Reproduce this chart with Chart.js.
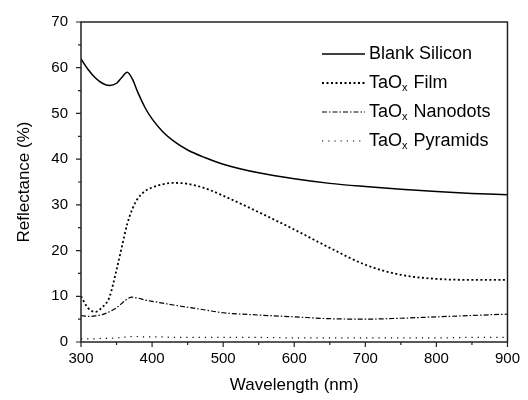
<!DOCTYPE html>
<html>
<head>
<meta charset="utf-8">
<script src="https://cdn.jsdelivr.net/npm/chart.js@4.4.1/dist/chart.umd.min.js"></script>
<style>
  html, body { margin: 0; padding: 0; background: #fff; }
  #chart { display: block; }
</style>
</head>
<body>
<canvas id="chart" width="528" height="400"></canvas>
<script>
// wavelength samples (nm)
const wavelengths = [300, 310, 320, 330, 340, 350, 357, 365, 372, 380, 390, 400, 415, 430, 450, 475, 500, 550, 600, 650, 700, 750, 800, 850, 900];

// reflectance (%)
const blankSilicon = [61.9, 59.6, 57.8, 56.6, 56.1, 56.6, 57.8, 59.0, 57.6, 54.6, 51.3, 48.8, 46.0, 44.0, 42.0, 40.3, 38.9, 37.0, 35.7, 34.7, 34.0, 33.4, 32.9, 32.5, 32.2];
const taoxFilm = [10.0, 7.4, 6.6, 7.6, 9.8, 15.8, 20.5, 25.8, 29.0, 31.4, 33.0, 33.8, 34.5, 34.8, 34.6, 33.6, 32.0, 28.4, 24.6, 20.6, 16.9, 14.7, 13.8, 13.6, 13.6];
const taoxNanodots = [5.8, 5.6, 5.7, 6.0, 6.6, 7.5, 8.4, 9.4, 9.8, 9.6, 9.2, 8.9, 8.5, 8.1, 7.6, 7.0, 6.4, 5.9, 5.5, 5.1, 5.0, 5.2, 5.5, 5.8, 6.1];
const taoxPyramids = [0.7, 0.7, 0.7, 0.8, 0.8, 0.9, 1.0, 1.1, 1.2, 1.2, 1.1, 1.1, 1.1, 1.0, 1.0, 1.0, 1.0, 1.0, 0.9, 0.9, 0.9, 0.9, 0.9, 1.0, 1.0];

const seriesLabels = ['Blank Silicon', 'TaOx Film', 'TaOx Nanodots', 'TaOx Pyramids'];
const xTicks = [300, 400, 500, 600, 700, 800, 900];
const yTicks = [0, 10, 20, 30, 40, 50, 60, 70];

const FONT = '"Liberation Sans", Arial, sans-serif';

function pts(vals) {
    return wavelengths.map((w, i) => ({ x: w, y: vals[i] }));
}

// frame + outward ticks (major and minor)
const framePlugin = {
    id: 'frame',
    afterDraw(chart) {
        const ctx = chart.ctx;
        const a = chart.chartArea;
        const xs = chart.scales.x, ys = chart.scales.y;
        ctx.save();
        ctx.strokeStyle = '#222';
        ctx.lineWidth = 1.5;
        ctx.strokeRect(a.left, a.top, a.right - a.left, a.bottom - a.top);
        ctx.lineWidth = 1.2;
        ctx.beginPath();
        for (let v = 300; v <= 900; v += 50) {
            const px = xs.getPixelForValue(v);
            const len = v % 100 === 0 ? 5 : 3;
            ctx.moveTo(px, a.bottom);
            ctx.lineTo(px, a.bottom + len);
        }
        for (let v = 0; v <= 70; v += 5) {
            const py = ys.getPixelForValue(v);
            const len = v % 10 === 0 ? 5 : 3;
            ctx.moveTo(a.left, py);
            ctx.lineTo(a.left - len, py);
        }
        ctx.stroke();
        ctx.restore();
    }
};

// legend with subscript x in TaOx
const legendPlugin = {
    id: 'subLegend',
    afterDraw(chart) {
        const ctx = chart.ctx;
        const x0 = 322, x1 = 365, tx = 369;
        const rows = [54, 83, 112, 141];
        ctx.save();
        chart.data.datasets.forEach((ds, i) => {
            const y = rows[i];
            ctx.strokeStyle = ds.borderColor;
            ctx.lineWidth = ds.borderWidth;
            ctx.setLineDash(ds.borderDash || []);
            ctx.beginPath();
            ctx.moveTo(x0, y);
            ctx.lineTo(x1, y);
            ctx.stroke();
            ctx.setLineDash([]);
            ctx.fillStyle = '#000';
            ctx.textBaseline = 'middle';
            ctx.textAlign = 'left';
            let label = ds.label;
            let x = tx;
            if (label.startsWith('TaOx')) {
                ctx.font = '18px ' + FONT;
                ctx.fillText('TaO', x, y);
                x += ctx.measureText('TaO').width;
                ctx.font = '11px ' + FONT;
                ctx.fillText('x', x, y + 5);
                x += ctx.measureText('x').width + 1;
                label = label.slice(4);
            }
            ctx.font = '18px ' + FONT;
            ctx.fillText(label, x, y);
        });
        ctx.restore();
    }
};

new Chart(document.getElementById('chart'), {
    type: 'line',
    data: {
        datasets: [
            { label: seriesLabels[0], data: pts(blankSilicon), borderColor: '#000', borderWidth: 1.5 },
            { label: seriesLabels[1], data: pts(taoxFilm), borderColor: '#000', borderWidth: 1.8, borderDash: [2, 2.5] },
            { label: seriesLabels[2], data: pts(taoxNanodots), borderColor: '#000', borderWidth: 1.2, borderDash: [5, 2, 1.5, 2] },
            { label: seriesLabels[3], data: pts(taoxPyramids), borderColor: '#000', borderWidth: 1.2, borderDash: [1.2, 5] }
        ]
    },
    options: {
        responsive: false,
        animation: false,
        devicePixelRatio: 1,
        elements: {
            point: { radius: 0 },
            line: { cubicInterpolationMode: 'monotone', fill: false }
        },
        layout: { padding: { top: 19, right: 13, left: 0, bottom: 0 } },
        plugins: { legend: { display: false }, tooltip: { enabled: false } },
        scales: {
            x: {
                type: 'linear', min: 300, max: 900,
                grid: { display: false, drawTicks: false }, border: { display: false },
                afterBuildTicks: s => { s.ticks = xTicks.map(v => ({ value: v })); },
                ticks: { color: '#000', font: { family: FONT, size: 15 }, padding: 8, maxRotation: 0 },
                title: { display: true, text: 'Wavelength (nm)', color: '#000', font: { family: FONT, size: 17 }, padding: { top: 8 } },
                afterFit: s => { s.height = 58; }
            },
            y: {
                min: 0, max: 70,
                grid: { display: false, drawTicks: false }, border: { display: false },
                afterBuildTicks: s => { s.ticks = yTicks.map(v => ({ value: v })); },
                ticks: { color: '#000', font: { family: FONT, size: 15 }, padding: 13 },
                title: { display: true, text: 'Reflectance (%)', color: '#000', font: { family: FONT, size: 17 }, padding: { top: 14, bottom: 0 } },
                afterFit: s => { s.width = 81; }
            }
        }
    },
    plugins: [framePlugin, legendPlugin]
});
</script>
</body>
</html>
